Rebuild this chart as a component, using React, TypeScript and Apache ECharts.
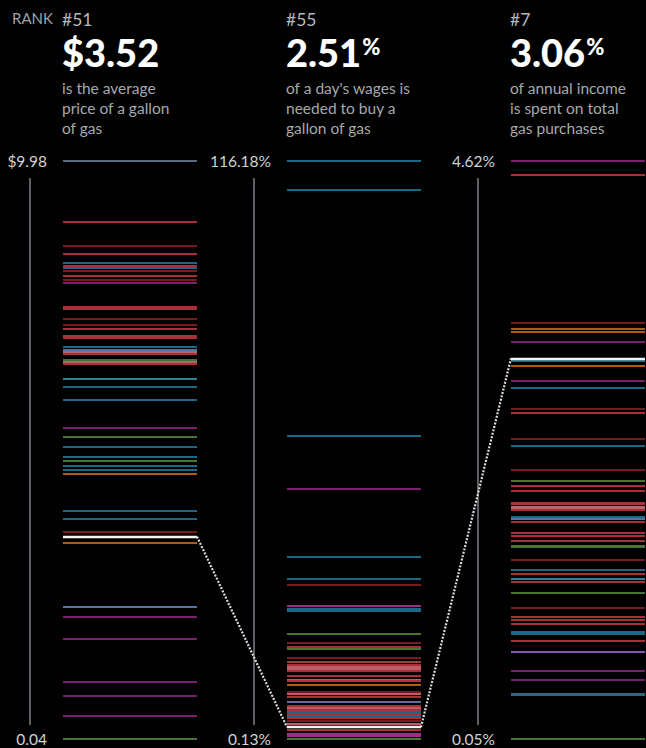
import React, { useEffect, useRef } from "react";
import * as echarts from "echarts";

// ---------- DATA ----------
const REGION_COLORS: Record<string, string> = {
  A: "#5f7189",
  R: "#b5323b",
  D: "#7c1c23",
  T: "#1b6f8e",
  C: "#2a8d9b",
  G: "#4b7a33",
  O: "#b4640f",
  P: "#7e2274",
  M: "#a3318f",
  K: "#c4636e",
  S: "#5b79aa",
  V: "#9058b8",
  B: "#9b4a37",
};

// Column 1: average price of a gallon of gas (USD)
const PRICE_VALUES = [
  9.98, 8.94, 8.52, 8.39, 8.23, 8.18, 8.15, 8.09, 8.0, 7.93, 7.88, 7.48, 7.44, 7.26, 7.17, 7.1,
  6.97, 6.94, 6.78, 6.73, 6.7, 6.66, 6.56, 6.53, 6.5, 6.23, 6.09, 5.87, 5.39, 5.23, 5.06, 4.9,
  4.83, 4.74, 4.67, 4.61, 3.96, 3.83, 3.61, 3.41, 2.31, 2.15, 1.76, 1.02, 0.79, 0.44, 0.04,
];
const PRICE_REGIONS = [
  "A", "R", "D", "R", "T", "R", "T", "D", "R", "D", "P", "R", "R", "D", "D", "R",
  "R", "R", "T", "S", "K", "R", "G", "K", "R", "C", "T", "T", "P", "G", "T", "T",
  "G", "T", "T", "O", "T", "T", "D", "O", "S", "P", "P", "P", "P", "P", "G",
];
const PRICE_MIN = 0.04;
const PRICE_MAX = 9.98;
const PRICE_TICK_LABELS = ["0.04", "$9.98"];

// Column 2: % of a day's wages needed to buy a gallon of gas
const WAGE_VALUES = [
  116.18, 110.5, 60.97, 50.38, 36.81, 32.31, 31.11, 26.97, 26.23, 25.83, 21.35, 19.47, 18.66,
  18.26, 16.39, 15.65, 14.99, 14.59, 14.18, 13.78, 12.92, 12.12, 11.77, 11.11, 9.63, 9.16, 8.62,
  7.62, 6.76, 6.35, 5.95, 5.55, 5.15, 4.75, 4.35, 3.74, 3.14, 2.04, 1.13, 0.73, 0.13,
];
const WAGE_REGIONS = [
  "T", "T", "T", "P", "T", "T", "D", "M", "T", "T", "G", "D", "R",
  "G", "D", "B", "R", "K", "K", "R", "R", "K", "R", "O", "D", "K", "R",
  "S", "R", "K", "R", "T", "R", "T", "R", "D", "K", "R", "M", "M", "G",
];
const WAGE_MIN = 0.13;
const WAGE_MAX = 116.18;
const WAGE_TICK_LABELS = ["0.13%", "116.18%"];

// Column 3: % of annual income spent on total gas purchases
const INCOME_VALUES = [
  4.62, 4.51, 3.34, 3.29, 3.27, 3.19, 3.04, 3.0, 2.88, 2.83, 2.66, 2.63, 2.42, 2.37, 2.18, 2.09,
  2.05, 2.01, 1.92, 1.91, 1.89, 1.88, 1.86, 1.81, 1.79, 1.77, 1.68, 1.66, 1.62, 1.58, 1.57, 1.47,
  1.39, 1.36, 1.32, 1.29, 1.21, 1.09, 1.02, 0.99, 0.96, 0.9, 0.88, 0.83, 0.74, 0.59, 0.52, 0.41,
  0.4, 0.05,
];
const INCOME_REGIONS = [
  "P", "R", "D", "O", "O", "P", "T", "O", "P", "T", "D", "R", "D", "T", "D", "G",
  "R", "R", "R", "R", "K", "K", "R", "T", "S", "R", "R", "R", "R", "G", "G", "D",
  "T", "R", "C", "R", "G", "D", "R", "R", "R", "T", "T", "R", "V", "P", "P", "M",
  "T", "G",
];
const INCOME_MIN = 0.05;
const INCOME_MAX = 4.62;
const INCOME_TICK_LABELS = ["0.05%", "4.62%"];

// Highlighted country (United States)
const HIGHLIGHT_VALUES = [3.52, 2.51, 3.06];
const HIGHLIGHT_RANKS = ["#51", "#55", "#7"];
const HIGHLIGHT_LABELS = ["$3.52", "2.51%", "3.06%"];
const DESCRIPTIONS = [
  ["is the average", "price of a gallon", "of gas"],
  ["of a day's wages is", "needed to buy a", "gallon of gas"],
  ["of annual income", "is spent on total", "gas purchases"],
];

// ---------- LAYOUT ----------
const W = 646;
const H = 748;
const GRID_TOP = 161;
const GRID_H = 578;
const COL_W = 134;
const COL_LEFTS = [63, 287, 511];
const FONT = "Lato, 'DejaVu Sans', sans-serif";

const COLUMNS = [
  { values: PRICE_VALUES, regions: PRICE_REGIONS, min: PRICE_MIN, max: PRICE_MAX, ticks: PRICE_TICK_LABELS },
  { values: WAGE_VALUES, regions: WAGE_REGIONS, min: WAGE_MIN, max: WAGE_MAX, ticks: WAGE_TICK_LABELS },
  { values: INCOME_VALUES, regions: INCOME_REGIONS, min: INCOME_MIN, max: INCOME_MAX, ticks: INCOME_TICK_LABELS },
];

function buildOption() {
  const grid = COLUMNS.map((_, i) => ({
    left: COL_LEFTS[i],
    top: GRID_TOP,
    width: COL_W,
    height: GRID_H,
    containLabel: false,
  }));
  const xAxis = COLUMNS.map((_, i) => ({
    type: "value",
    gridIndex: i,
    min: 0,
    max: 1,
    show: false,
  }));
  const yAxis = COLUMNS.map((c, i) => ({
    type: "value",
    gridIndex: i,
    min: c.min,
    max: c.max,
    axisLine: { show: false },
    axisTick: { show: false },
    splitLine: { show: false },
    axisLabel: {
      show: true,
      customValues: [c.min, c.max],
      margin: 16,
      color: "#cfd3d7",
      fontSize: 15.5,
      fontFamily: FONT,
      formatter: (v: number) => (Math.abs(v - c.max) < 1e-9 ? c.ticks[1] : c.ticks[0]),
    },
  }));
  const series: any[] = [];
  COLUMNS.forEach((c, i) => {
    series.push({
      type: "lines",
      coordinateSystem: "cartesian2d",
      xAxisIndex: i,
      yAxisIndex: i,
      silent: true,
      z: 2,
      lineStyle: { width: 2, opacity: 0.95 },
      data: c.values.map((v, k) => ({
        coords: [
          [0, v],
          [1, v],
        ],
        lineStyle: { color: REGION_COLORS[c.regions[k]] },
      })),
    });
    series.push({
      type: "lines",
      coordinateSystem: "cartesian2d",
      xAxisIndex: i,
      yAxisIndex: i,
      silent: true,
      z: 5,
      lineStyle: { width: 2.4, color: "#f4f4f4", opacity: 1 },
      data: [
        {
          coords: [
            [0, HIGHLIGHT_VALUES[i]],
            [1, HIGHLIGHT_VALUES[i]],
          ],
        },
      ],
    });
  });
  return {
    animation: false,
    backgroundColor: "#000000",
    grid,
    xAxis,
    yAxis,
    series,
  };
}

function buildGraphics(chart: any) {
  const els: any[] = [];
  const px = (gi: number, x: number, v: number) =>
    chart.convertToPixel({ gridIndex: gi }, [x, v]) as number[];

  // header
  els.push({
    type: "text",
    x: 12,
    y: 18,
    style: { text: "RANK", fill: "#9ea2a7", fontSize: 15, fontFamily: FONT, verticalAlign: "middle" },
  });
  COLUMNS.forEach((c, i) => {
    const hx = COL_LEFTS[i] - 1;
    els.push({
      type: "text",
      x: hx,
      y: 19,
      style: { text: HIGHLIGHT_RANKS[i], fill: "#b4b8bc", fontSize: 17.5, fontFamily: FONT, verticalAlign: "middle" },
    });
    const lab = HIGHLIGHT_LABELS[i];
    const hasPct = lab.endsWith("%");
    els.push({
      type: "text",
      x: hx,
      y: 52,
      style: {
        text: hasPct ? `{a|${lab.slice(0, -1)}}{b|%}` : `{a|${lab}}`,
        verticalAlign: "middle",
        fill: "#ffffff",
        rich: {
          a: { fontSize: 38, fontWeight: 900, fontFamily: FONT, fill: "#ffffff", lineHeight: 38 },
          b: { fontSize: 22, fontWeight: 900, fontFamily: FONT, fill: "#ffffff", lineHeight: 38, padding: [0, 0, 11, 1] },
        },
      },
    });
    DESCRIPTIONS[i].forEach((line, k) => {
      els.push({
        type: "text",
        x: hx,
        y: 88 + k * 20,
        style: { text: line, fill: "#a5a9ae", fontSize: 15.5, fontFamily: FONT, verticalAlign: "middle" },
      });
    });

    // vertical axis line
    const top = px(i, 0, c.max)[1];
    const bot = px(i, 0, c.min)[1];
    const ax = COL_LEFTS[i] - 33;
    els.push({
      type: "line",
      shape: { x1: ax, y1: top + 17, x2: ax, y2: bot - 14 },
      style: { stroke: "#7b8188", lineWidth: 1.5 },
      silent: true,
    });
  });

  // dotted connectors through the highlight values
  for (let i = 0; i < COLUMNS.length - 1; i++) {
    const a = px(i, 1, HIGHLIGHT_VALUES[i]);
    const b = px(i + 1, 0, HIGHLIGHT_VALUES[i + 1]);
    els.push({
      type: "line",
      z: 10,
      shape: { x1: a[0], y1: a[1], x2: b[0], y2: b[1] },
      style: { stroke: "#dcdcdc", lineWidth: 2.2, lineDash: [2, 1.5] },
      silent: true,
    });
  }
  return els;
}

export default function App() {
  const ref = useRef<HTMLDivElement>(null);
  useEffect(() => {
    document.body.style.margin = "0";
    document.body.style.background = "#000";
    if (!ref.current) return;
    const chart = echarts.init(ref.current, null, { renderer: "svg" });
    chart.setOption(buildOption() as any);
    chart.setOption({ graphic: buildGraphics(chart) } as any);
    return () => chart.dispose();
  }, []);
  return (
    <div
      ref={ref}
      style={{ position: "fixed", left: 0, top: 0, width: W, height: H, background: "#000" }}
    />
  );
}
